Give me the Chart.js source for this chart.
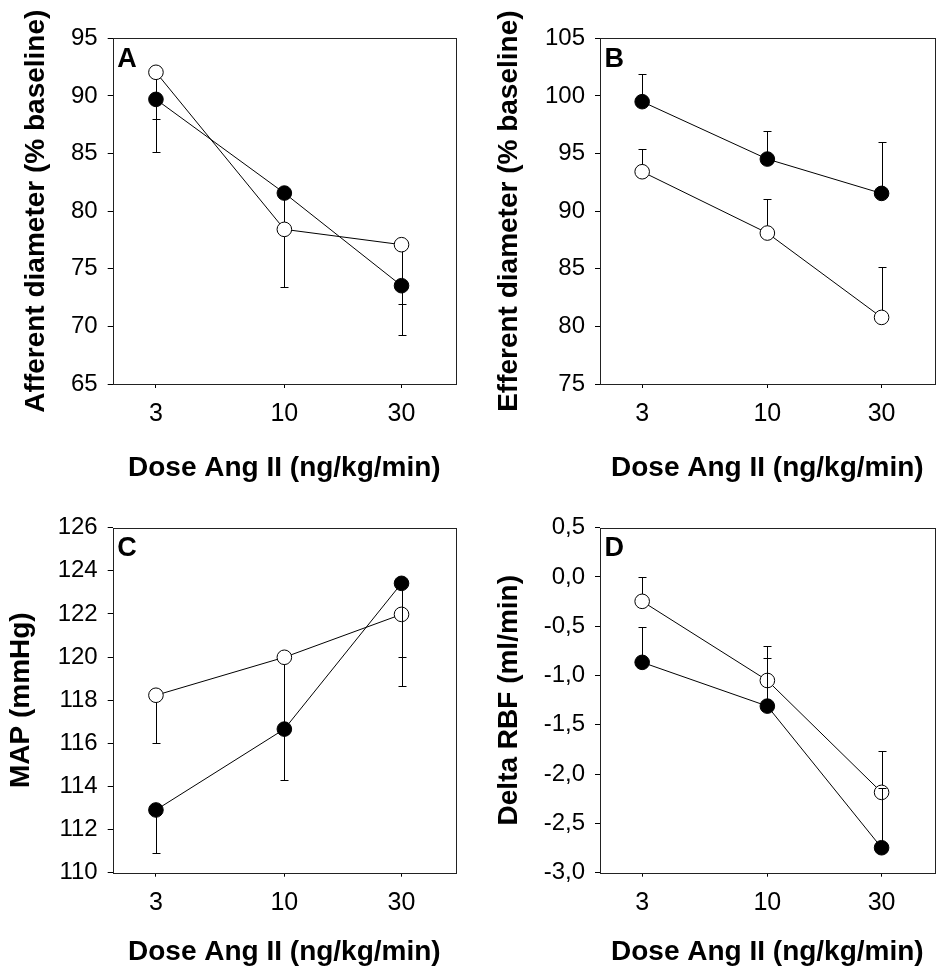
<!DOCTYPE html>
<html>
<head>
<meta charset="utf-8">
<script src="https://cdn.jsdelivr.net/npm/chart.js@4/dist/chart.umd.min.js"></script>
<style>
  body { margin: 0; background: #fff; }
  #wrap { position: relative; width: 943px; height: 968px; }
  #wrap canvas { position: absolute; }
</style>
</head>
<body>
<div id="wrap">
  <canvas id="cA" width="470" height="484" style="left:0;top:0"></canvas>
  <canvas id="cB" width="473" height="484" style="left:470px;top:0"></canvas>
  <canvas id="cC" width="470" height="484" style="left:0;top:484px"></canvas>
  <canvas id="cD" width="473" height="484" style="left:470px;top:484px"></canvas>
</div>
<script>
// doses on the log x axis
const doses = [3, 10, 30];
const xTicks = [3, 10, 30];

// A: afferent diameter (% baseline), error bars point down
const aOpen = [92.05, 78.42, 77.09];
const aOpenErr = [88.0, null, 71.94];
const aFilled = [89.7, 81.57, 73.53];
const aFilledErr = [85.1, 73.4, 69.25];

// B: efferent diameter (% baseline), error bars point up
const bOpen = [93.42, 88.1, 80.78];
const bOpenErr = [95.39, 91.05, 85.17];
const bFilled = [99.5, 94.52, 91.54];
const bFilledErr = [101.9, 96.98, 95.97];

// C: MAP (mmHg)
const cOpen = [118.23, 119.99, 121.98];
const cOpenErr = [116.01, 114.31, 118.64];
const cFilled = [112.91, 116.66, 123.42];
const cFilledErr = [110.9, null, 120.02];

// D: delta RBF (ml/min)
const dOpen = [-0.247, -1.05, -2.185];
const dOpenErr = [0.0, -0.70, -1.77];
const dFilled = [-0.866, -1.31, -2.747];
const dFilledErr = [-0.51, -0.825, -2.14];

const FONT = '"Liberation Sans", Arial, Helvetica, sans-serif';

// error bars: drawn just before their own dataset so markers sit on top
const errorBars = {
  id: 'errorBars',
  beforeDatasetDraw(chart, args) {
    const ds = chart.data.datasets[args.index];
    if (!ds.err) return;
    const x = chart.scales.x, y = chart.scales.y, ctx = chart.ctx;
    ctx.save();
    ctx.strokeStyle = '#000';
    ctx.lineWidth = 1;
    ds.data.forEach((p, i) => {
      const e = ds.err[i];
      if (e == null) return;
      const px = Math.round(x.getPixelForValue(p.x)) + 0.5;
      const py = y.getPixelForValue(p.y);
      const pe = Math.round(y.getPixelForValue(e)) + 0.5;
      ctx.beginPath();
      ctx.moveTo(px, py);
      ctx.lineTo(px, pe);
      ctx.moveTo(px - 4, pe);
      ctx.lineTo(px + 4, pe);
      ctx.stroke();
    });
    ctx.restore();
  }
};

// box around the plot area plus the panel letter
const frame = {
  id: 'frame',
  beforeDatasetsDraw(chart) {
    const a = chart.chartArea, ctx = chart.ctx;
    ctx.save();
    ctx.strokeStyle = '#222';
    ctx.lineWidth = 1;
    ctx.strokeRect(Math.round(a.left) + 0.5, Math.round(a.top) + 0.5,
      Math.round(a.right - a.left), Math.round(a.bottom - a.top));
    ctx.restore();
  },
  afterDraw(chart, args, opts) {
    const a = chart.chartArea, ctx = chart.ctx;
    ctx.save();
    ctx.fillStyle = '#000';
    ctx.font = 'bold 27px ' + FONT;
    ctx.textBaseline = 'alphabetic';
    ctx.fillText(opts.letter, a.left + 4.5, a.top + 28.5);
    ctx.restore();
  }
};

function series(vals, err, filled, order) {
  return {
    data: doses.map((d, i) => ({ x: d, y: vals[i] })),
    err: err,
    order: order,
    borderColor: '#000',
    borderWidth: 1,
    pointRadius: 7.3,
    pointHoverRadius: 7.3,
    pointBorderWidth: 1,
    pointBorderColor: '#000',
    pointBackgroundColor: filled ? '#000' : '#fff',
    fill: false,
    tension: 0
  };
}

function makePanel(id, p) {
  new Chart(document.getElementById(id), {
    type: 'line',
    data: { datasets: p.datasets },
    plugins: [errorBars, frame],
    options: {
      responsive: false,
      animation: false,
      devicePixelRatio: 1,
      layout: { padding: { left: p.padLeft, right: p.padRight, top: p.padTop, bottom: 0 } },
      plugins: {
        legend: { display: false },
        tooltip: { enabled: false },
        frame: { letter: p.letter }
      },
      scales: {
        x: {
          type: 'logarithmic',
          min: 2,
          max: 50,
          afterBuildTicks: s => { s.ticks = xTicks.map(v => ({ value: v })); },
          afterFit: s => { s.height = p.xHeight; },
          border: { display: false },
          grid: { drawOnChartArea: false, drawTicks: true, tickLength: 4, color: '#000' },
          ticks: {
            autoSkip: false, maxRotation: 0, padding: 11, color: '#000',
            font: { family: FONT, size: 25, lineHeight: 1.2 },
            callback: v => String(v)
          },
          title: {
            display: true, text: 'Dose Ang II (ng/kg/min)', color: '#000',
            padding: 0, font: { family: FONT, size: 28, weight: 'bold', lineHeight: 1.1 }
          }
        },
        y: {
          min: p.yMin,
          max: p.yMax,
          afterFit: s => { s.width = p.yWidth; },
          border: { display: false },
          grid: { drawOnChartArea: false, drawTicks: true, tickLength: 5, color: '#000' },
          ticks: {
            stepSize: p.step, padding: 10, color: '#000',
            font: { family: FONT, size: 24 },
            callback: p.fmt
          },
          title: {
            display: true, text: p.yTitle, color: '#000',
            padding: 0, font: { family: FONT, size: 28, weight: 'bold', lineHeight: 1.1 }
          }
        }
      }
    }
  });
}

const intFmt = v => String(Math.round(v));
const commaFmt = v => (Math.abs(v) < 1e-9 ? 0 : v).toFixed(1).replace('.', ',');

makePanel('cA', {
  letter: 'A', yTitle: 'Afferent diameter (% baseline)',
  yMin: 65, yMax: 95, step: 5, fmt: intFmt,
  padLeft: 21.3, yWidth: 91.4, padRight: 14, padTop: 38.3, xHeight: 100,
  datasets: [series(aOpen, aOpenErr, false, 0), series(aFilled, aFilledErr, true, 1)]
});
makePanel('cB', {
  letter: 'B', yTitle: 'Efferent diameter (% baseline)',
  yMin: 75, yMax: 105, step: 5, fmt: intFmt,
  padLeft: 24.3, yWidth: 105.7, padRight: 1, padTop: 38.3, xHeight: 100,
  datasets: [series(bOpen, bOpenErr, false, 1), series(bFilled, bFilledErr, true, 0)]
});
makePanel('cC', {
  letter: 'C', yTitle: 'MAP (mmHg)',
  yMin: 110, yMax: 126, step: 2, fmt: intFmt,
  padLeft: 6.3, yWidth: 106.4, padRight: 14, padTop: 43.7, xHeight: 95.3,
  datasets: [series(cOpen, cOpenErr, false, 1), series(cFilled, cFilledErr, true, 0)]
});
makePanel('cD', {
  letter: 'D', yTitle: 'Delta RBF (ml/min)',
  yMin: -3, yMax: 0.5, step: 0.5, fmt: commaFmt,
  padLeft: 23.6, yWidth: 106.4, padRight: 1, padTop: 43.7, xHeight: 95.3,
  datasets: [series(dOpen, dOpenErr, false, 1), series(dFilled, dFilledErr, true, 0)]
});
</script>
</body>
</html>
